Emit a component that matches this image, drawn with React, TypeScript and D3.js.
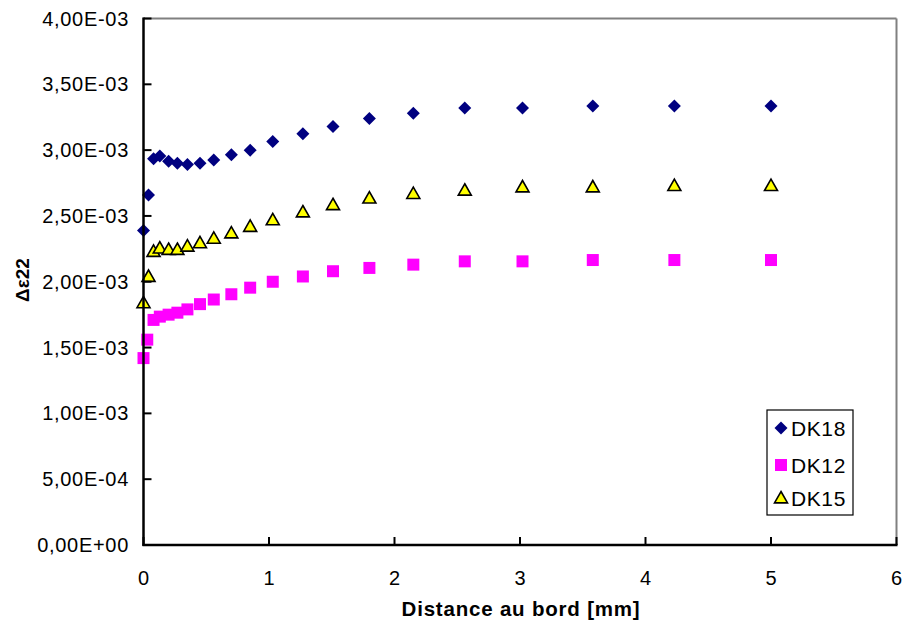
import React from "react";
import * as d3 from "d3";

const xValues = [0, 0.04, 0.08, 0.13, 0.2, 0.27, 0.35, 0.45, 0.56, 0.7, 0.85, 1.03, 1.27, 1.51, 1.8, 2.15, 2.56, 3.02, 3.58, 4.23, 5.0];
const xValuesDK12 = [0, 0.03, 0.08, 0.13, 0.2, 0.27, 0.35, 0.45, 0.56, 0.7, 0.85, 1.03, 1.27, 1.51, 1.8, 2.15, 2.56, 3.02, 3.58, 4.23, 5.0];
const dk18 = [2.39, 2.66, 2.935, 2.955, 2.915, 2.9, 2.89, 2.9, 2.925, 2.965, 3.0, 3.065, 3.125, 3.18, 3.24, 3.28, 3.32, 3.32, 3.335, 3.335, 3.335];
const dk12 = [1.42, 1.56, 1.71, 1.735, 1.75, 1.765, 1.79, 1.83, 1.865, 1.905, 1.955, 2.0, 2.04, 2.08, 2.105, 2.13, 2.155, 2.155, 2.165, 2.165, 2.165];
const dk15 = [1.84, 2.04, 2.23, 2.255, 2.245, 2.245, 2.27, 2.295, 2.33, 2.37, 2.42, 2.47, 2.53, 2.585, 2.635, 2.67, 2.695, 2.72, 2.72, 2.73, 2.73];
const seriesNames = ["DK18", "DK12", "DK15"];
const yTicks = [0, 0.5, 1, 1.5, 2, 2.5, 3, 3.5, 4];
const yTickLabels = ["0,00E+00", "5,00E-04", "1,00E-03", "1,50E-03", "2,00E-03", "2,50E-03", "3,00E-03", "3,50E-03", "4,00E-03"];
const xTicks = [0, 1, 2, 3, 4, 5, 6];

const W = 905, H = 631;
const L = 143.5, R = 896.5, T = 18.5, B = 545;
const FONT = "'Liberation Sans', Arial, sans-serif";

const diamond = (cx: number, cy: number, r: number) => `M${cx},${cy - r}L${cx + r},${cy}L${cx},${cy + r}L${cx - r},${cy}Z`;
const square = (cx: number, cy: number, r: number) => `M${cx - r},${cy - r}H${cx + r}V${cy + r}H${cx - r}Z`;
const triangle = (cx: number, cy: number, r: number) => `M${cx},${cy - r}L${cx + r},${cy + r * 0.75}L${cx - r},${cy + r * 0.75}Z`;

export default function App() {
  const x = d3.scaleLinear().domain([0, 6]).range([L, R]);
  const y = d3.scaleLinear().domain([0, 4]).range([B, T]);

  const legendY = [428, 465, 498];

  return (
    <svg width={W} height={H} style={{ position: "absolute", left: 0, top: 0, background: "#fff" }} fontFamily={FONT}>
      <rect x={0} y={0} width={W} height={H} fill="#fff" />
      {/* plot border top/right gray */}
      <line x1={L} y1={T} x2={R} y2={T} stroke="#808080" strokeWidth={2} />
      <line x1={R} y1={T} x2={R} y2={B} stroke="#808080" strokeWidth={2} />

      {/* data */}
      {xValues.map((xv, i) => (
        <path key={"a" + i} d={diamond(x(xv), y(dk18[i]), 6.5)} fill="#000080" />
      ))}
      {xValuesDK12.map((xv, i) => (
        <path key={"b" + i} d={square(x(xv), y(dk12[i]), 6)} fill="#FF00FF" />
      ))}
      {xValues.map((xv, i) => (
        <path key={"c" + i} d={triangle(x(xv), y(dk15[i]), 6.5)} fill="#FFFF00" stroke="#000" strokeWidth={1.6} strokeLinejoin="miter" />
      ))}

      {/* axes */}
      <line x1={L} y1={T - 1} x2={L} y2={B + 1} stroke="#000" strokeWidth={2.5} />
      <line x1={L - 1} y1={B} x2={R + 1} y2={B} stroke="#000" strokeWidth={2.5} />
      {yTicks.map((t, i) => (
        <g key={"yt" + i}>
          <line x1={L} x2={L + 8} y1={y(t)} y2={y(t)} stroke="#000" strokeWidth={2} />
          <text x={129} y={y(t) + 7} textAnchor="end" fontSize={20} letterSpacing={0.7} fill="#000">{yTickLabels[i]}</text>
        </g>
      ))}
      {xTicks.map((t, i) => (
        <g key={"xt" + i}>
          <line x1={x(t)} x2={x(t)} y1={B} y2={B - 8} stroke="#000" strokeWidth={2} />
          <text x={x(t)} y={585} textAnchor="middle" fontSize={20} fill="#000">{t}</text>
        </g>
      ))}

      {/* axis titles */}
      <text x={(L + R) / 2 + 1} y={616} textAnchor="middle" fontSize={20.5} letterSpacing={0.8} fontWeight="bold" fill="#000">Distance au bord [mm]</text>
      <text transform="translate(29,280) rotate(-90)" textAnchor="middle" fontSize={19} fontWeight="bold" fill="#000">Δε22</text>

      {/* legend */}
      <rect x={767} y={410} width={86} height={105} fill="#fff" stroke="#000" strokeWidth={1.2} />
      <path d={diamond(781, legendY[0], 6.5)} fill="#000080" />
      <path d={square(781, legendY[1], 6)} fill="#FF00FF" />
      <path d={triangle(781, legendY[2], 6.5)} fill="#FFFF00" stroke="#000" strokeWidth={1.6} />
      {seriesNames.map((n, i) => (
        <text key={n} x={791} y={legendY[i] + 7.5} fontSize={21} letterSpacing={0.6} fill="#000">{n}</text>
      ))}
    </svg>
  );
}
